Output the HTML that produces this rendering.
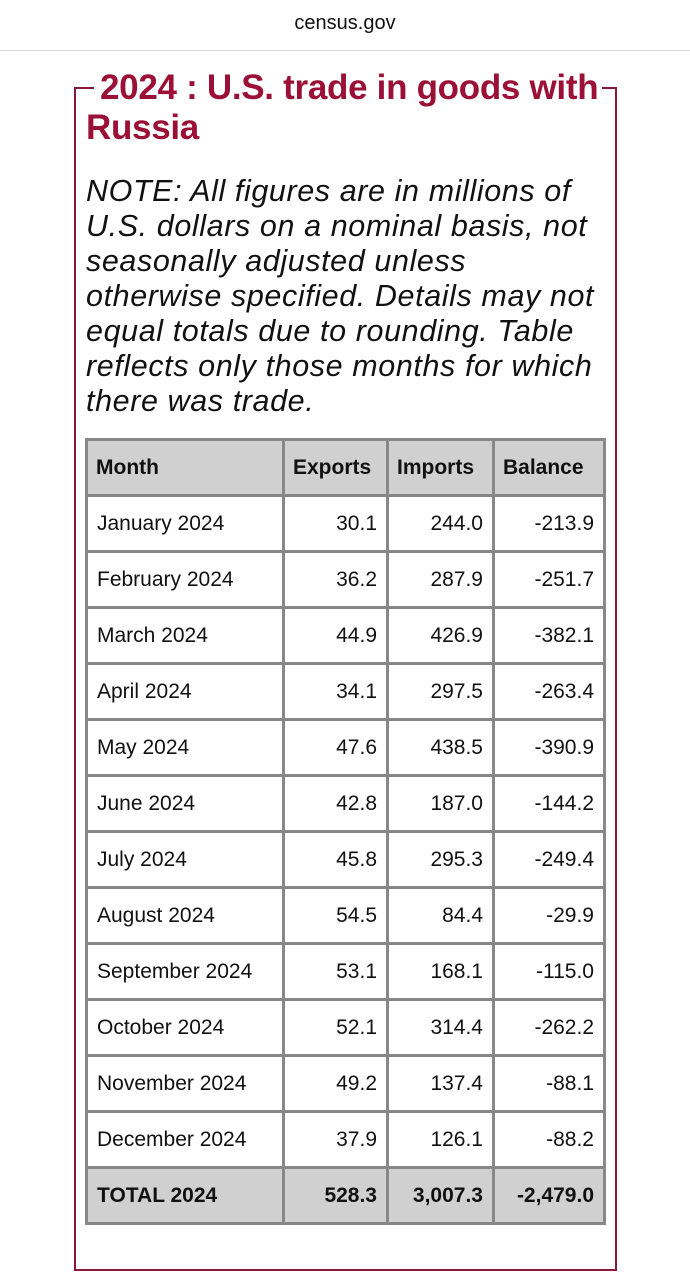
<!DOCTYPE html>
<html><head><meta charset="utf-8"><style>
body{margin:0;width:690px;height:1280px;background:#fff;font-family:"Liberation Sans",sans-serif;position:relative;overflow:hidden}
.top{position:absolute;left:0;top:0;width:690px;height:50px;border-bottom:1px solid #d6d6d6;text-align:center;font-size:20px;line-height:46px;color:#111}
.box{position:absolute;left:74px;top:87px;width:539px;height:1182px;border:2px solid #8b1a3a;border-top:none}
.tl{position:absolute;top:87px;height:2px;background:#8b1a3a}
.title{position:absolute;left:86px;top:68px;width:560px;font-size:35px;font-weight:bold;color:#9b1036;line-height:40px;letter-spacing:-0.3px;white-space:nowrap}
.note{position:absolute;left:86px;top:174px;width:560px;font-size:30.5px;font-style:italic;line-height:35px;color:#111;white-space:nowrap;letter-spacing:0.6px}
table{position:absolute;left:85px;top:438px;border-collapse:collapse;border:3px solid #888;table-layout:fixed;width:518px}
td,th{border:3px solid #888;height:53px;font-size:21px;padding:0 9px;color:#111;overflow:hidden;white-space:nowrap}
th{background:#d0d0d0;text-align:left;font-weight:bold;padding:0 8px}
td{text-align:right}
td:first-child{text-align:left}
tr.t td{background:#d0d0d0;font-weight:bold}
</style></head><body>
<div class="top">census.gov</div>
<div class="box"></div>
<div class="tl" style="left:74px;width:20px"></div>
<div class="tl" style="left:602px;width:13px"></div>
<div class="title"><span style="padding-left:14px">2024 : U.S. trade in goods with</span><br>Russia</div>
<div class="note">NOTE: All figures are in millions of<br>U.S. dollars on a nominal basis, not<br>seasonally adjusted unless<br>otherwise specified. Details may not<br>equal totals due to rounding. Table<br>reflects only those months for which<br>there was trade.</div>
<table>
<colgroup><col style="width:197px"><col style="width:104px"><col style="width:106px"><col style="width:111px"></colgroup>
<tr><th>Month</th><th>Exports</th><th>Imports</th><th>Balance</th></tr>
<tr><td>January 2024</td><td>30.1</td><td>244.0</td><td>-213.9</td></tr>
<tr><td>February 2024</td><td>36.2</td><td>287.9</td><td>-251.7</td></tr>
<tr><td>March 2024</td><td>44.9</td><td>426.9</td><td>-382.1</td></tr>
<tr><td>April 2024</td><td>34.1</td><td>297.5</td><td>-263.4</td></tr>
<tr><td>May 2024</td><td>47.6</td><td>438.5</td><td>-390.9</td></tr>
<tr><td>June 2024</td><td>42.8</td><td>187.0</td><td>-144.2</td></tr>
<tr><td>July 2024</td><td>45.8</td><td>295.3</td><td>-249.4</td></tr>
<tr><td>August 2024</td><td>54.5</td><td>84.4</td><td>-29.9</td></tr>
<tr><td>September 2024</td><td>53.1</td><td>168.1</td><td>-115.0</td></tr>
<tr><td>October 2024</td><td>52.1</td><td>314.4</td><td>-262.2</td></tr>
<tr><td>November 2024</td><td>49.2</td><td>137.4</td><td>-88.1</td></tr>
<tr><td>December 2024</td><td>37.9</td><td>126.1</td><td>-88.2</td></tr>
<tr class="t"><td>TOTAL 2024</td><td>528.3</td><td>3,007.3</td><td>-2,479.0</td></tr>
</table>
</body></html>
